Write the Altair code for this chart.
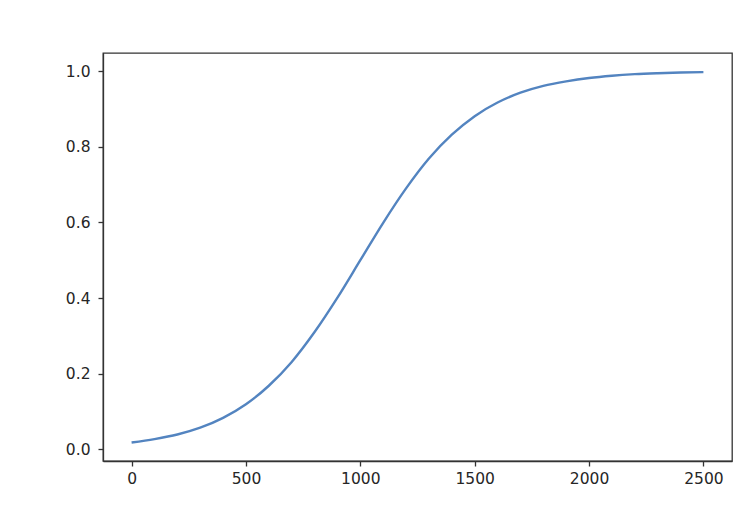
import altair as alt
import pandas as pd

# values (x every 100)
x_vals = [0, 100, 200, 300, 400, 500, 600, 700, 800, 900, 1000, 1100, 1200,
          1300, 1400, 1500, 1600, 1700, 1800, 1900, 2000, 2100, 2200, 2300, 2400, 2500]
y_vals = [0.018, 0.027, 0.039, 0.057, 0.083, 0.119, 0.168, 0.231, 0.310, 0.401,
          0.500, 0.599, 0.690, 0.769, 0.832, 0.881, 0.917, 0.943, 0.961, 0.973,
          0.982, 0.988, 0.992, 0.9945, 0.9963, 0.9975]
x_ticks = [0, 500, 1000, 1500, 2000, 2500]
y_ticks = [0.0, 0.2, 0.4, 0.6, 0.8, 1.0]

df = pd.DataFrame({"x": x_vals, "y": y_vals})

axis_common = dict(
    grid=False,
    domainColor="#333333",
    domainWidth=1.3,
    tickColor="#333333",
    tickWidth=1.3,
    tickSize=5,
    labelColor="#262626",
    labelFont="DejaVu Sans",
    labelFontSize=15.5,
    title=None,
)

chart = alt.Chart(df).mark_line(
    color="#5384c0", strokeWidth=2.4, interpolate="monotone"
).encode(
    x=alt.X("x:Q", scale=alt.Scale(domain=[-125, 2625], nice=False, zero=False),
            axis=alt.Axis(values=x_ticks, format="d", labelPadding=5, **axis_common)),
    y=alt.Y("y:Q", scale=alt.Scale(domain=[-0.031, 1.048], nice=False, zero=False),
            axis=alt.Axis(values=y_ticks, format=".1f", labelPadding=8, **axis_common)),
).properties(
    width=629,
    height=408,
    background="white",
    autosize=alt.AutoSizeParams(type="none"),
    padding={"left": 95, "top": 45, "right": 16, "bottom": 40},
).configure_view(
    stroke="#333333", strokeWidth=1.3
)

chart.save("out.html", embed_options={"renderer": "svg", "actions": False})
